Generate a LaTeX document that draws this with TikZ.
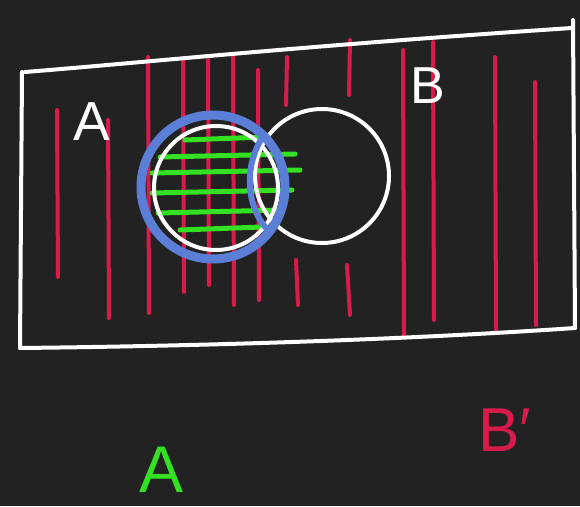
\documentclass[tikz,border=0pt]{standalone}
\usepackage{fontspec}
\setmainfont{Liberation Sans}
\definecolor{bg}{HTML}{222222}
\definecolor{penred}{HTML}{D81B4A}
\definecolor{pengreen}{HTML}{33E022}
\definecolor{penblue}{HTML}{5B7FD6}
\begin{document}
\begin{tikzpicture}[x=1pt,y=-1pt,line cap=round,line join=round,
  whiteline/.style={draw=white,line width=4pt},
  redline/.style={draw=penred,line width=4pt},
  greenline/.style={draw=pengreen,line width=5pt},
  blueline/.style={draw=penblue,line width=9pt},
  lbl/.style={inner sep=0pt}]
\fill[bg] (0,0) rectangle (580,506);
\useasboundingbox (0,0) rectangle (580,506);
% red hatching
\foreach \x/\a/\b in {57/110/277, 108/120/318, 148/57/313, 183/60/292, 208/60/285, 233/57/305, 258/70/300, 403/50/335, 433/42/320, 495/57/330, 535/82/325}
  \draw[redline] (\x,\a) -- (\x+1,\b);
\draw[redline] (287,57) -- (286,105);
\draw[redline] (296,260) -- (298,305);
\draw[redline] (350,40) -- (349,95);
\draw[redline] (347,265) -- (350,315);
% green hatching
\foreach \y/\a/\b in {140/185/265, 157/160/295, 173/152/300, 193/152/292, 213/158/282, 230/180/262}
  \draw[greenline] (\a,\y) -- (\b,\y-3);
% frame
\draw[whiteline] (25,72) .. controls (150,62) and (300,46) .. (572,28);
\draw[whiteline] (22,72) -- (20,348);
\draw[whiteline] (20,348) .. controls (200,346) and (400,340) .. (575,328);
\draw[whiteline] (573,20) -- (575,328);
% circles
\draw[whiteline] (322,176) circle[radius=67];
\draw[whiteline] (216,188) circle[radius=62];
\draw[blueline] (213,187) circle[radius=72];
\draw[penblue,line width=6pt] (262,138) .. controls (242,170) and (248,212) .. (270,232);
% labels
\node[lbl,text=white,font=\fontsize{55}{55}\selectfont] (la) at (92,122) {A};
\node[lbl,text=white,font=\fontsize{52}{52}\selectfont] (lb) at (428,86) {B};
\node[lbl,text=pengreen,font=\fontsize{66}{66}\selectfont] (ga) at (162,470) {A};
\node[lbl,text=penred,font=\fontsize{62}{62}\selectfont] (rb) at (505,430) {B′};
\end{tikzpicture}
\end{document}
